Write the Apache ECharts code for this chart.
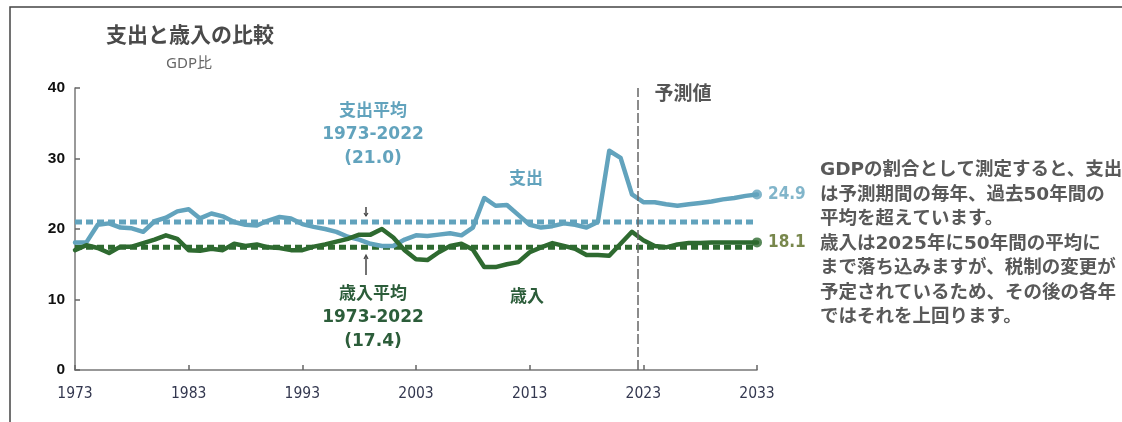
<!DOCTYPE html>
<html>
<head>
<meta charset="utf-8">
<script src="https://cdn.jsdelivr.net/npm/echarts@6/dist/echarts.min.js"></script>
<style>
  html, body { margin: 0; padding: 0; background: #fff; }
  #chart { width: 1122px; height: 422px; }
</style>
</head>
<body>
<div id="chart"></div>
<script>
// 年（1973-2033）
const years = [
  1973, 1974, 1975, 1976, 1977, 1978, 1979, 1980, 1981, 1982,
  1983, 1984, 1985, 1986, 1987, 1988, 1989, 1990, 1991, 1992,
  1993, 1994, 1995, 1996, 1997, 1998, 1999, 2000, 2001, 2002,
  2003, 2004, 2005, 2006, 2007, 2008, 2009, 2010, 2011, 2012,
  2013, 2014, 2015, 2016, 2017, 2018, 2019, 2020, 2021, 2022,
  2023, 2024, 2025, 2026, 2027, 2028, 2029, 2030, 2031, 2032, 2033
];
// 支出 (GDP比)
const spending = [
  18.1, 18.1, 20.6, 20.8, 20.2, 20.1, 19.6, 21.1, 21.6, 22.5,
  22.8, 21.5, 22.2, 21.8, 21.0, 20.6, 20.5, 21.2, 21.7, 21.5,
  20.7, 20.3, 20.0, 19.6, 18.9, 18.5, 17.9, 17.6, 17.6, 18.5,
  19.1, 19.0, 19.2, 19.4, 19.1, 20.2, 24.4, 23.3, 23.4, 22.0,
  20.6, 20.2, 20.4, 20.8, 20.6, 20.2, 21.0, 31.1, 30.1, 24.9,
  23.8, 23.8, 23.5, 23.3, 23.5, 23.7, 23.9, 24.2, 24.4, 24.7, 24.9
];
// 歳入 (GDP比)
const revenue = [
  17.0, 17.7, 17.3, 16.6, 17.5, 17.5, 18.0, 18.5, 19.1, 18.6,
  17.0, 16.9, 17.2, 17.0, 17.9, 17.6, 17.8, 17.4, 17.3, 17.0,
  17.0, 17.5, 17.8, 18.2, 18.6, 19.2, 19.2, 20.0, 18.8, 17.0,
  15.7, 15.6, 16.7, 17.6, 17.9, 17.1, 14.6, 14.6, 15.0, 15.3,
  16.7, 17.4, 18.0, 17.6, 17.2, 16.3, 16.3, 16.2, 17.9, 19.6,
  18.4, 17.6, 17.4, 17.8, 18.0, 18.0, 18.1, 18.1, 18.1, 18.1, 18.1
];
const spendingAvg = 21.0;
const revenueAvg = 17.4;
const forecastStart = 2022.5;
const yTicks = [0, 10, 20, 30, 40];

const baseYear = years[0];
const BLUE = "#62a3bd";
const GREEN = "#2e6a30";
const GREEN_TXT = "#2c5d3a";
const GRAY = "#555";
const FONT = "DejaVu Sans, 'Noto Sans CJK JP', sans-serif";

const toPairs = (arr) => arr.map((v, i) => [years[i] - baseYear, v]);
const xMax = years[years.length - 1] - baseYear;
const last = (arr) => arr[arr.length - 1];

let chartDom = document.getElementById("chart");
let myChart = echarts.init(chartDom);

let option = {
  animation: false,
  grid: { left: 75, right: 365, top: 88, bottom: 52 },
  xAxis: {
    type: "value",
    min: 0,
    max: xMax,
    interval: 10,
    axisLine: { lineStyle: { color: "#777", width: 1.5 } },
    axisTick: { inside: true, length: 5, lineStyle: { color: "#666", width: 1.5 } },
    axisLabel: {
      margin: 16,
      color: "#33374f",
      fontSize: 15.5,
      fontFamily: "'DejaVu Sans Condensed', 'Liberation Sans Narrow', sans-serif",
      formatter: (v) => String(v + baseYear),
    },
    splitLine: { show: false },
  },
  yAxis: {
    type: "value",
    min: yTicks[0],
    max: yTicks[yTicks.length - 1],
    interval: 10,
    axisLine: { show: true, lineStyle: { color: "#777", width: 1.5 } },
    axisTick: { show: true, inside: true, length: 5, lineStyle: { color: "#666", width: 1.5 } },
    axisLabel: {
      margin: 10,
      color: "#111",
      fontSize: 15.5,
      fontWeight: "bold",
      fontFamily: "'Liberation Sans', Arial, sans-serif",
    },
    splitLine: { show: false },
  },
  series: [
    {
      name: "支出平均",
      type: "line",
      z: 1,
      symbol: "none",
      data: [[0, spendingAvg], [xMax, spendingAvg]],
      lineStyle: { color: BLUE, width: 5, type: [7, 4] },
    },
    {
      name: "歳入平均",
      type: "line",
      z: 1,
      symbol: "none",
      data: [[0, revenueAvg], [xMax, revenueAvg]],
      lineStyle: { color: GREEN, width: 5, type: [7, 4] },
    },
    {
      name: "支出",
      type: "line",
      z: 3,
      symbol: "none",
      data: toPairs(spending),
      lineStyle: { color: BLUE, width: 4.5, join: "round", cap: "round" },
      markLine: {
        silent: true,
        symbol: "none",
        label: { show: false },
        lineStyle: { color: "#666", width: 1.5, type: [10, 3] },
        data: [{ xAxis: forecastStart - baseYear }],
      },
    },
    {
      name: "歳入",
      type: "line",
      z: 3,
      symbol: "none",
      data: toPairs(revenue),
      lineStyle: { color: GREEN, width: 4.5, join: "round", cap: "round" },
    },
    {
      type: "scatter",
      z: 4,
      symbolSize: 10,
      data: [[xMax, last(spending)]],
      itemStyle: { color: BLUE },
      label: {
        show: true,
        position: "right",
        distance: 6,
        color: BLUE,
        fontSize: 17,
        fontWeight: "bold",
        fontFamily: "'DejaVu Sans Condensed', sans-serif",
        formatter: (p) => p.value[1].toFixed(1),
      },
    },
    {
      type: "scatter",
      z: 4,
      symbolSize: 10,
      data: [[xMax, last(revenue)]],
      itemStyle: { color: GREEN },
      label: {
        show: true,
        position: "right",
        distance: 6,
        color: "#56691f",
        fontSize: 17,
        fontWeight: "bold",
        fontFamily: "'DejaVu Sans Condensed', sans-serif",
        formatter: (p) => p.value[1].toFixed(1),
      },
    },
  ],
  graphic: [
    // 外枠
    {
      type: "polyline",
      silent: true,
      shape: { points: [[10, 430], [10, 7], [1130, 7]] },
      style: { stroke: "#444", lineWidth: 1.5, fill: null },
    },
    {
      type: "text",
      x: 190, y: 37,
      style: { text: "支出と歳入の比較", font: "bold 21px " + FONT, fill: "#4a4a4a", align: "center", verticalAlign: "middle" },
    },
    {
      type: "text",
      x: 189, y: 64,
      style: { text: "GDP比", font: "15px 'Noto Sans', 'Noto Sans CJK JP', sans-serif", fill: "#666", align: "center", verticalAlign: "middle" },
    },
    {
      type: "text",
      x: 683, y: 95,
      style: { text: "予測値", font: "bold 19px " + FONT, fill: GRAY, align: "center", verticalAlign: "middle" },
    },
    {
      type: "text",
      x: 373, y: 135,
      style: { text: "支出平均\n1973-2022\n(21.0)", font: "bold 17px " + FONT, lineHeight: 23.5, fill: BLUE, align: "center", verticalAlign: "middle" },
    },
    {
      type: "text",
      x: 373, y: 318,
      style: { text: "歳入平均\n1973-2022\n(17.4)", font: "bold 17px " + FONT, lineHeight: 23.5, fill: GREEN_TXT, align: "center", verticalAlign: "middle" },
    },
    {
      type: "text",
      x: 526, y: 180,
      style: { text: "支出", font: "bold 17px " + FONT, fill: BLUE, align: "center", verticalAlign: "middle" },
    },
    {
      type: "text",
      x: 527, y: 298,
      style: { text: "歳入", font: "bold 17px " + FONT, fill: GREEN_TXT, align: "center", verticalAlign: "middle" },
    },
    // 注記の矢印
    {
      type: "polyline",
      silent: true,
      shape: { points: [[366, 207], [366, 216]] },
      style: { stroke: "#444", lineWidth: 1.5 },
    },
    {
      type: "polyline",
      silent: true,
      shape: { points: [[364, 213], [366, 216], [368, 213]] },
      style: { stroke: "#444", lineWidth: 1.2, fill: null },
    },
    {
      type: "polyline",
      silent: true,
      shape: { points: [[366, 275], [366, 256]] },
      style: { stroke: "#444", lineWidth: 1.5 },
    },
    {
      type: "polyline",
      silent: true,
      shape: { points: [[364, 259], [366, 255], [368, 259]] },
      style: { stroke: "#444", lineWidth: 1.2, fill: null },
    },
    {
      type: "text",
      x: 820, y: 158,
      style: {
        text: "GDPの割合として測定すると、支出\nは予測期間の毎年、過去50年間の\n平均を超えています。\n歳入は2025年に50年間の平均に\nまで落ち込みますが、税制の変更が\n予定されているため、その後の各年\nではそれを上回ります。",
        font: "bold 18.5px " + FONT,
        lineHeight: 24.5,
        fill: "#595959",
        align: "left",
        verticalAlign: "top",
      },
    },
  ],
};
option && myChart.setOption(option);
</script>
</body>
</html>
